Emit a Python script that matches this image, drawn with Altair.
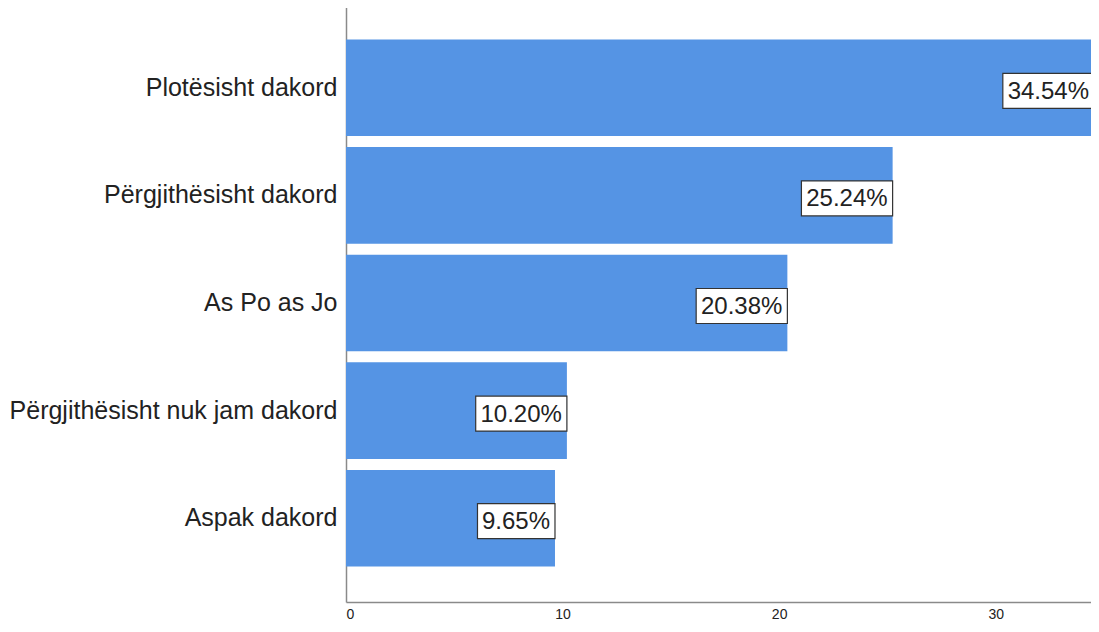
import altair as alt
import pandas as pd

categories = ["Plotësisht dakord", "Përgjithësisht dakord", "As Po as Jo",
              "Përgjithësisht nuk jam dakord", "Aspak dakord"]
values = [34.54, 25.24, 20.38, 10.20, 9.65]
labels = ["34.54%", "25.24%", "20.38%", "10.20%", "9.65%"]

df = pd.DataFrame({"cat": categories, "value": values, "label": labels})

W = 745
H = 598
XMAX = 34.4
PX = W / XMAX  # pixels per unit

yenc = alt.Y("cat:N", sort=categories, title=None,
             scale=alt.Scale(paddingInner=0.102, paddingOuter=0.33, align=0.5),
             axis=alt.Axis(labelFontSize=25, labelColor="#222222", labelFont="Liberation Sans",
                           ticks=False, labelPadding=9, domainColor="#8a8a8a", domainWidth=1.5,
                           labelLimit=500))
xscale = alt.Scale(domain=[0, XMAX], nice=False, zero=True)
xaxis = alt.Axis(values=[0, 10, 20, 30], ticks=False, grid=False, labelFontSize=14,
                 labelColor="#222222", labelFont="Liberation Sans", labelPadding=5,
                 domainColor="#8a8a8a", domainWidth=1.5, title=None)

bars = alt.Chart(df).mark_bar(color="#5594e4", clip=False).encode(
    x=alt.X("value:Q", scale=xscale, axis=xaxis),
    y=yenc,
)

boxes = alt.Chart(df).transform_calculate(
    left="datum.value - (length(datum.label) * 13.7 + 9) / " + str(PX)
).mark_bar(fill="white", stroke="#333333", strokeWidth=1.2, height=35, yOffset=3, clip=False).encode(
    x=alt.X("left:Q", scale=xscale),
    x2="value:Q",
    y=alt.Y("cat:N", sort=categories),
)

texts = alt.Chart(df).mark_text(align="right", baseline="middle", dx=-5, dy=4,
                                fontSize=24, font="Liberation Sans", color="#222222").encode(
    x=alt.X("value:Q", scale=xscale),
    y=alt.Y("cat:N", sort=categories),
    text="label:N",
)

chart = alt.layer(bars, boxes, texts).properties(
    width=W, height=H,
    autosize=alt.AutoSizeParams(type="none"),
    padding={"left": 338, "top": -4, "right": 0, "bottom": 20},
).configure_view(stroke=None)

chart.save("out.html", embed_options={"renderer": "svg", "actions": False})
